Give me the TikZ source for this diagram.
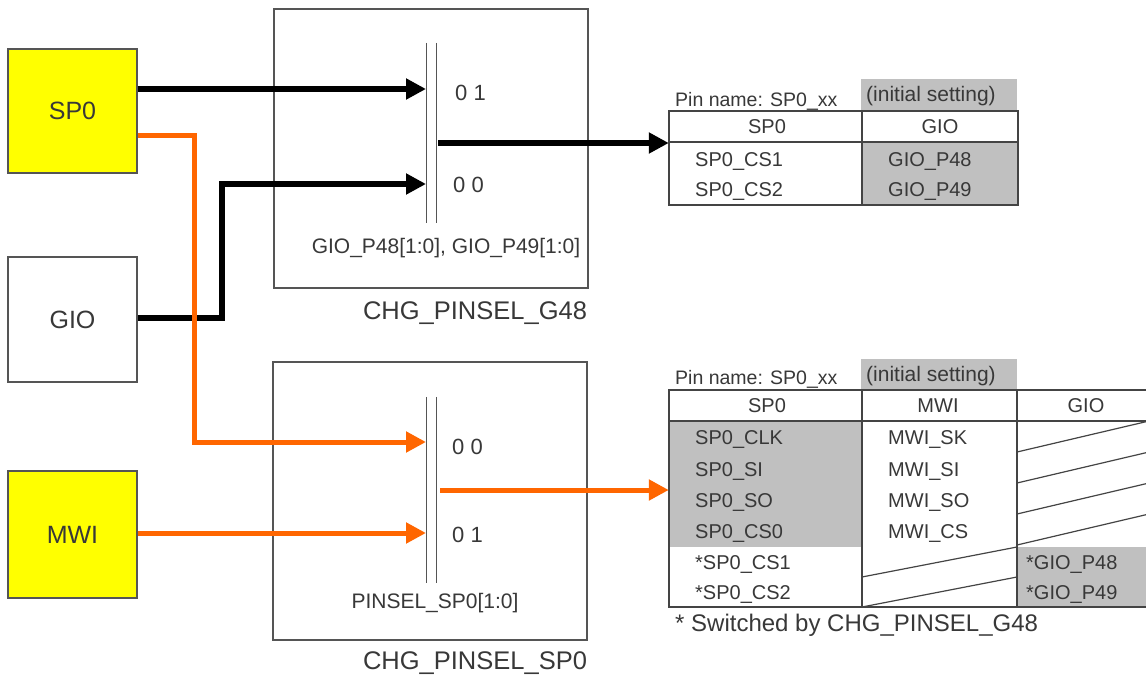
\documentclass[tikz,border=0pt]{standalone}
\usepackage{fontspec}
\setmainfont{Liberation Sans}
\usetikzlibrary{arrows.meta}
\definecolor{txt}{HTML}{383838}
\definecolor{bord}{HTML}{555555}
\definecolor{tline}{HTML}{444444}
\definecolor{gryfill}{HTML}{C0C0C0}
\definecolor{org}{HTML}{FF6600}
\definecolor{ylw}{HTML}{FFFF00}
\begin{document}
\begin{tikzpicture}[x=1pt,y=-1pt,
  blk/.style={draw=bord, line width=1.3pt, minimum width=129pt, inner sep=0pt, text=txt, font=\fontsize{25}{29}\selectfont},
  yblk/.style={blk, fill=ylw},
  frame/.style={draw=bord, line width=1.3pt, inner sep=0pt},
  muxbar/.style={inner sep=0pt, minimum width=10pt},
  barline/.style={draw=bord, line width=1.3pt},
  barrow/.style={draw=black, line width=6pt, -{Triangle[length=20pt,width=20pt]}},
  oarrow/.style={draw=org, line width=5pt, -{Triangle[length=20pt,width=20pt]}},
  sel/.style={text=txt, font=\fontsize{22}{26}\selectfont, anchor=west, inner sep=0pt},
  reg/.style={text=txt, font=\fontsize{21}{25}\selectfont, inner sep=0pt},
  capl/.style={text=txt, font=\fontsize{25.5}{29}\selectfont, inner sep=0pt},
  tbl/.style={text=txt, font=\fontsize{20}{24}\selectfont, inner sep=0pt},
  tblw/.style={tbl, anchor=west},
  small/.style={text=txt, font=\fontsize{19.5}{23}\selectfont, inner sep=0pt, anchor=west},
  tgrid/.style={draw=tline, line width=1.8pt},
  diag/.style={draw=tline, line width=1.2pt}
]
\useasboundingbox (0,0) rectangle (1146,680);
\clip (0,0) rectangle (1146,680);
\fill[white] (0,0) rectangle (1146,680);

% source blocks
\node[yblk, minimum height=124pt] (sp0) at (72.5,111) {SP0};
\node[blk, minimum height=125pt] (gio) at (72.5,319.5) {GIO};
\node[yblk, minimum height=127pt] (mwi) at (72.5,534.5) {MWI};

% selector frames
\node[frame, minimum width=314pt, minimum height=279pt] (g48) at (431,148.5) {};
\node[frame, minimum width=314pt, minimum height=278pt] (psp) at (430,501) {};
\node[capl] (g48lbl) at (475,313) {CHG\_PINSEL\_G48};
\node[capl] (psplbl) at (475,663) {CHG\_PINSEL\_SP0};

% mux bars
\node[muxbar, minimum height=180pt] (mux1) at (431.5,133) {};
\node[muxbar, minimum height=186pt] (mux2) at (431.5,490) {};
\draw[barline] (mux1.north west) -- (mux1.south west);
\draw[barline] (mux1.north east) -- (mux1.south east);
\draw[barline] (mux2.north west) -- (mux2.south west);
\draw[barline] (mux2.north east) -- (mux2.south east);

\node[sel] (s01a) at (455,93) {0 1};
\node[sel] (s00a) at (453,185) {0 0};
\node[sel] (s00b) at (452,447) {0 0};
\node[sel] (s01b) at (452,535) {0 1};
\node[reg] (r1) at (446,248) {GIO\_P48[1:0], GIO\_P49[1:0]};
\node[reg] (r2) at (435,603) {PINSEL\_SP0[1:0]};

% tables (frames as nodes)
\node[inner sep=0pt, minimum width=349pt, minimum height=94pt] (t1) at (843.5,158) {};
\node[inner sep=0pt, minimum width=480pt, minimum height=217pt] (t2) at (909,498.5) {};

% table 1
\fill[gryfill] (861,79) rectangle (1017,111);
\fill[gryfill] (862,142) rectangle (1018,205);
\node[small] (pn1) at (675,101) {Pin name: SP0\_xx};
\node[small, font=\fontsize{21}{25}\selectfont] (is1) at (866,96) {(initial setting)};
\draw[tgrid] (t1.north west) rectangle (t1.south east);
\draw[tgrid] (669,142) -- (1018,142);
\draw[tgrid] (862,111) -- (862,205);
\node[tbl] (h1a) at (767,127) {SP0};
\node[tbl] (h1b) at (940,127) {GIO};
\node[tblw] at (695,162) {SP0\_CS1};
\node[tblw] at (695,192) {SP0\_CS2};
\node[tblw] at (888,162) {GIO\_P48};
\node[tblw] at (888,192) {GIO\_P49};

% table 2
\fill[gryfill] (861,359) rectangle (1017,390);
\fill[gryfill] (669,421) rectangle (862,547);
\fill[gryfill] (1017,547) rectangle (1149,607);
\node[small] (pn2) at (675,379) {Pin name: SP0\_xx};
\node[small, font=\fontsize{21}{25}\selectfont] (is2) at (866,376) {(initial setting)};
\draw[tgrid] (t2.north west) rectangle (t2.south east);
\draw[tgrid] (669,421) -- (1149,421);
\draw[tgrid] (862,390) -- (862,607);
\draw[tgrid] (1017,390) -- (1017,607);
\foreach \k in {0,1,2,3} {
  \draw[diag] (1017,{452+31*\k}) -- (1149,{421+31*\k});
}
\draw[diag] (862,577) -- (1017,547);
\draw[diag] (862,607) -- (1017,577);
\node[tbl] at (767,406) {SP0};
\node[tbl] at (938,406) {MWI};
\node[tbl] at (1086,406) {GIO};
\node[tblw] at (695,440) {SP0\_CLK};
\node[tblw] at (695,471) {SP0\_SI};
\node[tblw] at (695,502) {SP0\_SO};
\node[tblw] at (695,533) {SP0\_CS0};
\node[tblw] at (695,564) {*SP0\_CS1};
\node[tblw] at (695,594) {*SP0\_CS2};
\node[tblw] at (888,440) {MWI\_SK};
\node[tblw] at (888,471) {MWI\_SI};
\node[tblw] at (888,502) {MWI\_SO};
\node[tblw] at (888,533) {MWI\_CS};
\node[tblw] at (1026,564) {*GIO\_P48};
\node[tblw] at (1026,594) {*GIO\_P49};
\node[capl, font=\fontsize{24}{28}\selectfont, anchor=west] (note) at (675,625) {* Switched by CHG\_PINSEL\_G48};

% connectors
\coordinate (m1a) at (426,89);
\coordinate (m1b) at (426,184);
\coordinate (j1) at (222,184);
\coordinate (o1) at (438,143);
\coordinate (m2a) at (426,442);
\coordinate (j2) at (194,442);
\coordinate (m2b) at (426,533);
\coordinate (o2) at (440,490);

\draw[barrow] (sp0.east |- m1a) -- (m1a);
\draw[barrow] (gio.east |- 0,318) -| (j1) -- (m1b);
\draw[barrow] (o1) -- (o1 -| t1.west);
\draw[oarrow] (sp0.east |- 0,135) -| (j2) -- (m2a);
\draw[oarrow] (mwi.east |- m2b) -- (m2b);
\draw[oarrow] (o2) -- (o2 -| t2.west);
\end{tikzpicture}
\end{document}
